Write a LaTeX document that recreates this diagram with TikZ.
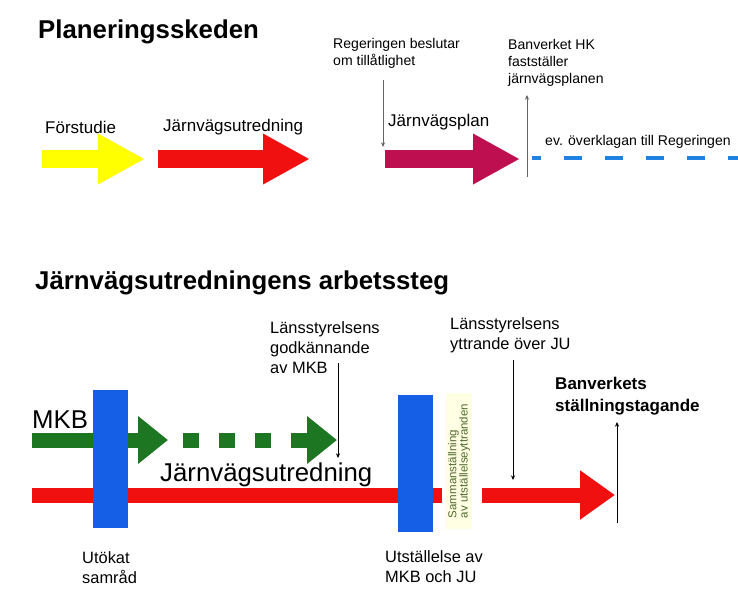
\documentclass[tikz,border=0pt]{standalone}
\usepackage{fontspec}
\setmainfont{Liberation Sans}
\usepackage{tikz}
\newcommand{\shaftwidth}{0.54cm}
\newcommand{\trackwidth}{0.45cm}
\definecolor{myYellow}{RGB}{255,255,0}
\definecolor{myRed}{RGB}{240,16,16}
\definecolor{myPurple}{RGB}{190,16,80}
\definecolor{myGreen}{RGB}{28,118,34}
\definecolor{myBlue}{RGB}{20,95,230}
\definecolor{myDash}{RGB}{30,130,225}
\definecolor{myOlive}{RGB}{80,105,45}
\definecolor{myPale}{RGB}{255,255,228}
\definecolor{myGrey}{RGB}{100,100,100}
\usetikzlibrary{arrows.meta,calc,positioning}
\tikzset{
  >=Stealth,
  txt/.style={inner sep=0,anchor=west,align=left},
  heading/.style={txt,font=\fontsize{22}{26}\selectfont\bfseries},
  phaselbl/.style={txt,font=\fontsize{14.5}{17}\selectfont},
  note/.style={txt,font=\fontsize{12}{14.5}\selectfont},
  lnote/.style={txt,font=\fontsize{14}{17}\selectfont},
  phase/.style={line width=\shaftwidth,-{Triangle[length=1.41cm,width=1.42cm]}},
  track/.style={line width=\trackwidth},
  bar/.style={fill=myBlue,minimum width=1.05cm,minimum height=4.12cm,inner sep=0},
  marker/.style={draw,-{Stealth[length=4pt,width=3.5pt]},line width=0.7pt},
}

\begin{document}
\begin{tikzpicture}[x=0.03cm,y=-0.03cm]
  \useasboundingbox (0,0) rectangle (738,589);
  % Planeringsskeden
  \node (plan) [heading] at (38,32) {Planeringsskeden};
  \coordinate (fs0) at (42,159);
  \coordinate (fs1) at (145,159);
  \coordinate (ju0) at (158,159);
  \coordinate (ju1) at (310,159);
  \coordinate (jp0) at (385,159);
  \coordinate (jp1) at (520,159);
  \coordinate (ov0) at (532,158);
  \coordinate (ov1) at (738,158);
  \draw [phase,myYellow] (fs0) -- (fs1);
  \draw [phase,myRed] (ju0) -- (ju1);
  \draw [phase,myPurple] (jp0) -- (jp1);
  \draw [myDash,line width=0.13cm,dash pattern=on 0.54cm off 0.69cm,dash phase=0.27cm] (ov0) -- (ov1);
  \node (forstudie) [phaselbl] at (45,127) {Förstudie};
  \node (utredning) [phaselbl] at (163,127) {Järnvägsutredning};
  \node (jvplan) [phaselbl] at (388,122) {Järnvägsplan};
  \node (overklagan) [note] at (545,142) {ev. överklagan till Regeringen};
  \node (regering) [note] at (333,53) {Regeringen beslutar\\om tillåtlighet};
  \node (hk) [note] at (508,63) {Banverket HK\\fastställer\\järnvägsplanen};
  \coordinate (beslut0) at (383,80);
  \coordinate (beslut1) at (383,147);
  \coordinate (faststall0) at (527,177);
  \coordinate (faststall1) at (527,95);
  \draw [marker,myGrey] (beslut0) -- (beslut1);
  \draw [marker,myGrey] (faststall0) -- (faststall1);

  % Arbetssteg
  \node (arbete) [heading] at (35,283) {Järnvägsutredningens arbetssteg};
  \node (mkb) [txt,font=\fontsize{22}{26}\selectfont] at (32,420) {MKB};
  \coordinate (mkb0) at (32,440);
  \coordinate (mkb1) at (168,440);
  \coordinate (mkb2) at (183,440);
  \coordinate (mkb3) at (337,440);
  \draw [myGreen,track,-{Triangle[length=0.9cm,width=1.38cm]}] (mkb0) -- (mkb1);
  \draw [myGreen,track,dash pattern=on 0.48cm off 0.6cm,-{Triangle[length=0.9cm,width=1.38cm]}] (mkb2) -- (mkb3);
  \coordinate (jv0) at (32,495);
  \coordinate (jv1) at (442,495);
  \coordinate (jv2) at (482,495);
  \coordinate (jv3) at (615,495);
  \draw [myRed,track] (jv0) -- (jv1);
  \draw [myRed,track,-{Triangle[length=1.05cm,width=1.41cm]}] (jv2) -- (jv3);
  \node (jvlbl) [txt,font=\fontsize{22}{26}\selectfont] at (160,475) {Järnvägsutredning};
  \node (samrad) [bar] at (110.5,459) {};
  \node (utstallelse) [bar] at (415.5,463.5) {};
  \node (samman) [fill=myPale,text=myOlive,rotate=90,align=left,inner sep=1.5pt,
    minimum width=4.1cm,font=\fontsize{9.8}{9.6}\selectfont] at (459,461) {Sammanställning\\av utställelseyttranden};
  \node (samradlbl) [lnote] at (82,568) {Utökat\\samråd};
  \node (utstlbl) [lnote] at (385,567) {Utställelse av\\MKB och JU};
  \node (godk) [lnote] at (270,348) {Länsstyrelsens\\godkännande\\av MKB};
  \node (yttr) [lnote] at (450,335) {Länsstyrelsens\\yttrande över JU};
  \node (stall) [lnote,font=\fontsize{14.5}{19}\selectfont\bfseries] at (555,396) {Banverkets\\ställningstagande};
  \coordinate (godk0) at (338,363);
  \coordinate (godk1) at (338,458);
  \coordinate (yttr0) at (513,360);
  \coordinate (yttr1) at (513,480);
  \coordinate (stall0) at (617,523);
  \coordinate (stall1) at (617,422);
  \draw [marker] (godk0) -- (godk1);
  \draw [marker] (yttr0) -- (yttr1);
  \draw [marker] (stall0) -- (stall1);
\end{tikzpicture}
\end{document}
